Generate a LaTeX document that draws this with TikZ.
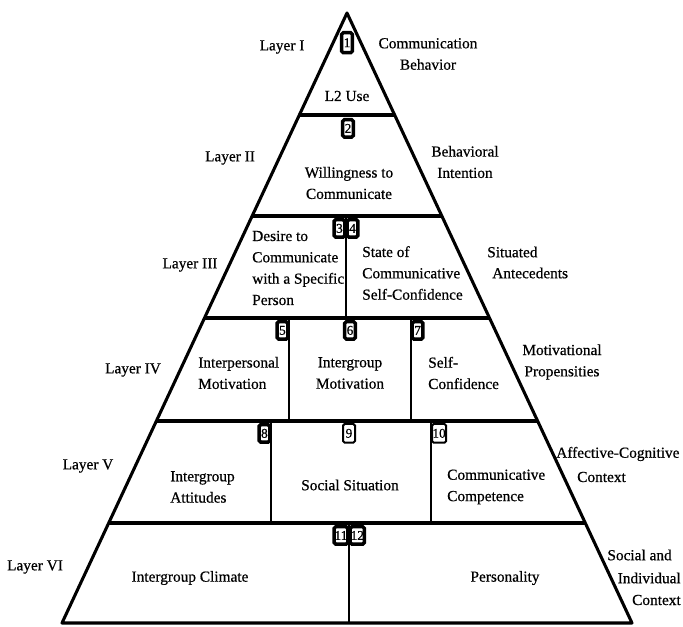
\documentclass[tikz,border=0pt]{standalone}
\usepackage{fontspec}
\setmainfont{Liberation Serif}[FakeBold=0.6]
\begin{document}
\begin{tikzpicture}[x=0.75pt,y=-0.75pt,
  edge/.style={line width=2.3pt,line join=round},
  divider/.style={line width=1.9pt},
  lbl/.style={font=\fontsize{11.5}{16}\selectfont,inner sep=0pt,align=center},
  lbll/.style={lbl,align=left},
  numbox/.style={draw=black,fill=white,line width=2.6pt,rounded corners=1.2pt,inner sep=0.3pt,
    minimum width=8pt,minimum height=13pt,font=\fontsize{10}{10}\selectfont},
  numboxthin/.style={numbox,line width=1.5pt,minimum width=9pt,minimum height=14pt}]
\useasboundingbox (0,0) rectangle (683,627);
% triangle corners
\coordinate (apex) at (347,13);
\coordinate (bl) at (62,623);
\coordinate (br) at (632,623);
% layer line ends
\coordinate (l1) at (299.4,115); \coordinate (r1) at (394.6,115);
\coordinate (l2) at (252.2,216); \coordinate (r2) at (441.8,216);
\coordinate (l3) at (204.6,318); \coordinate (r3) at (489.4,318);
\coordinate (l4) at (156.5,421); \coordinate (r4) at (537.5,421);
\coordinate (l5) at (108.8,523); \coordinate (r5) at (585.2,523);
% divider ends
\coordinate (d3t) at (346,216); \coordinate (d3b) at (346,318);
\coordinate (d4at) at (289,318); \coordinate (d4ab) at (289,421);
\coordinate (d4bt) at (411,318); \coordinate (d4bb) at (411,421);
\coordinate (d5at) at (271,421); \coordinate (d5ab) at (271,523);
\coordinate (d5bt) at (431,421); \coordinate (d5bb) at (431,523);
\coordinate (d6t) at (349,523); \coordinate (d6b) at (349,623);
% outline and layers
\draw[edge] (apex) -- (bl) -- (br) -- cycle;
\draw[edge] (l1) -- (r1);
\draw[edge] (l2) -- (r2);
\draw[edge] (l3) -- (r3);
\draw[edge] (l4) -- (r4);
\draw[edge] (l5) -- (r5);
\draw[divider] (d3t) -- (d3b);
\draw[divider] (d4at) -- (d4ab);
\draw[divider] (d4bt) -- (d4bb);
\draw[divider] (d5at) -- (d5ab);
\draw[divider] (d5bt) -- (d5bb);
\draw[divider] (d6t) -- (d6b);
% number boxes
\node[numbox,anchor=north,minimum height=15pt] (n1) at (347,31) {1};
\node[numbox,anchor=north] (n2) at (348,118) {2};
\node[numbox,anchor=north east] (n3) at (346.5,218) {3};
\node[numbox,anchor=north west] (n4) at (345.5,218) {4};
\node[numbox,anchor=north east] (n5) at (289.5,320) {5};
\node[numbox,anchor=north] (n6) at (350,320) {6};
\node[numbox,anchor=north west] (n7) at (410.5,320) {7};
\node[numbox,anchor=north east] (n8) at (271.5,423) {8};
\node[numboxthin,anchor=north] (n9) at (349,423) {9};
\node[numboxthin,anchor=north west] (n10) at (431,423) {10};
\node[numbox,anchor=north east] (n11) at (349.5,525) {11};
\node[numbox,anchor=north west] (n12) at (348.5,525) {12};
% layer I
\node[lbl] (layI) at (282,47) {Layer I};
\node[lbl] (use) at (347,96) {L2 Use};
\node[lbl] (comm) at (428,54) {Communication\\Behavior};
% layer II
\node[lbl] (layII) at (230,158) {Layer II};
\node[lbl] (wtc) at (349,183) {Willingness to\\Communicate};
\node[lbl] (bint) at (465,162) {Behavioral\\Intention};
% layer III
\node[lbl] (layIII) at (190,265) {Layer III};
\node[lbll,anchor=west] (desire) at (252,268) {Desire to\\Communicate\\with a Specific\\Person};
\node[lbll,anchor=west] (state) at (362,273) {State of\\Communicative\\Self-Confidence};
\node[lbl,anchor=west] (sit1) at (487,252) {Situated};
\node[lbl,anchor=west] (sit2) at (492,273) {Antecedents};
% layer IV
\node[lbl] (layIV) at (133,370) {Layer IV};
\node[lbll,anchor=west] (interp) at (198,373) {Interpersonal\\Motivation};
\node[lbl] (intgm) at (350,373) {Intergroup\\Motivation};
\node[lbll,anchor=west] (selfc) at (428,373) {Self-\\Confidence};
\node[lbl] (motiv) at (562,362) {Motivational\\Propensities};
% layer V
\node[lbl] (layV) at (88,466) {Layer V};
\node[lbll,anchor=west] (iatt) at (170,487) {Intergroup\\Attitudes};
\node[lbl] (soc) at (350,485) {Social Situation};
\node[lbll,anchor=west] (ccomp) at (447,487) {Communicative\\Competence};
\node[lbl,anchor=west] (acc1) at (556,454) {Affective-Cognitive};
\node[lbl,anchor=west] (acc2) at (577,477) {Context};
% layer VI
\node[lbl] (layVI) at (35,567) {Layer VI};
\node[lbl] (iclim) at (190,578) {Intergroup Climate};
\node[lbl] (pers) at (505,578) {Personality};
\node[lbl,anchor=east] (sic1) at (672,555) {Social and};
\node[lbl,anchor=east] (sic2) at (681,578) {Individual};
\node[lbl,anchor=east] (sic3) at (681,600) {Context};
\end{tikzpicture}
\end{document}
